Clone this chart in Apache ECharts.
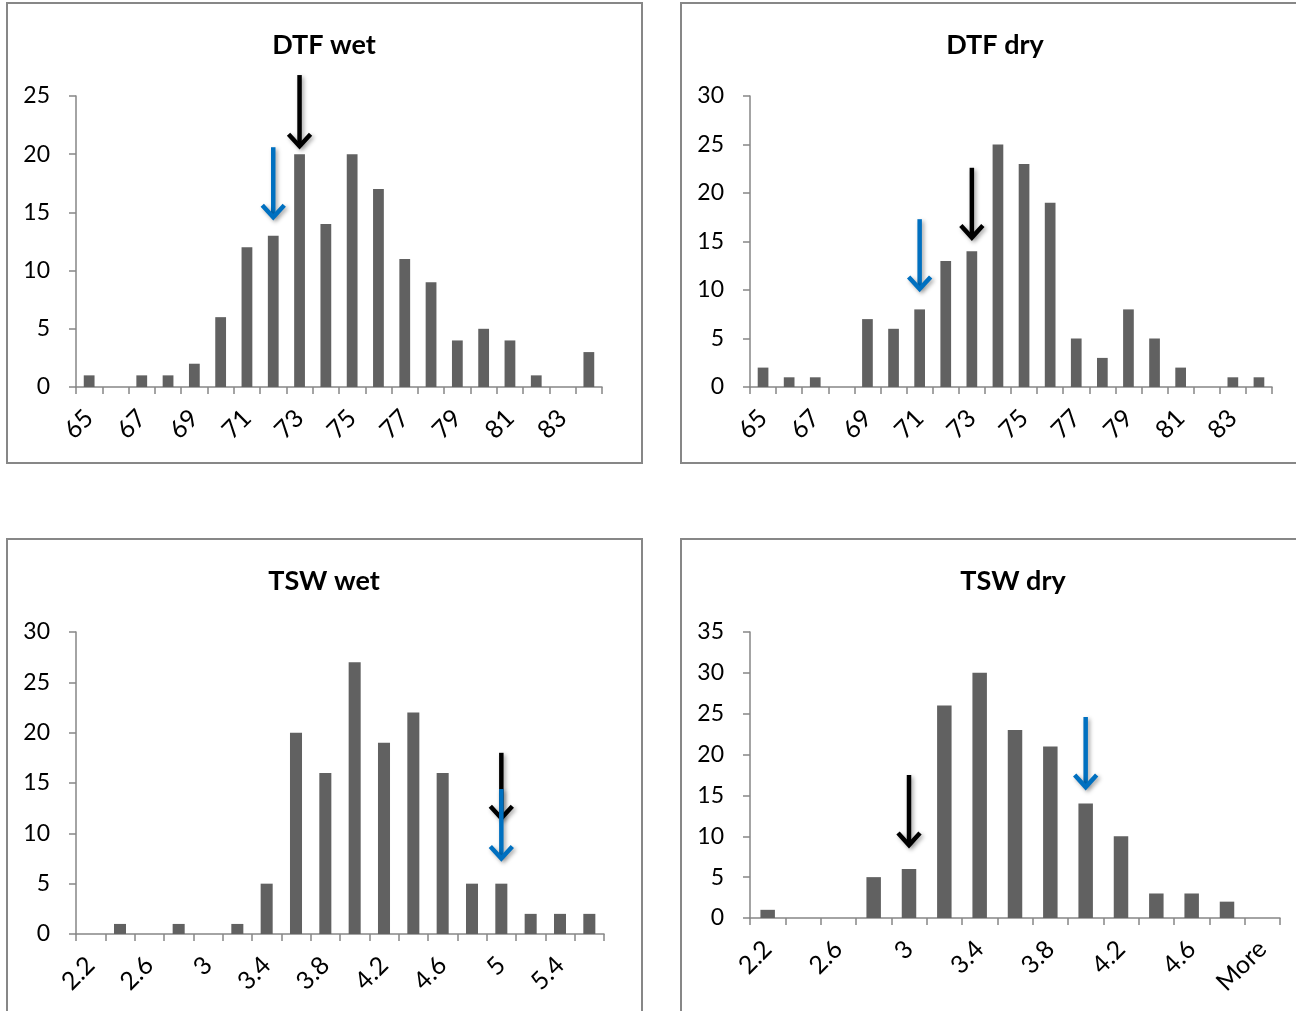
<!DOCTYPE html>
<html><head><meta charset="utf-8">
<script src="https://cdn.jsdelivr.net/npm/echarts@6/dist/echarts.min.js"></script>
<style>html,body{margin:0;padding:0;background:#fff}#c{width:1296px;height:1011px}</style>
</head><body><div id="c"></div>
<script>
// ---- data ----
const dtfCats = ['65','66','67','68','69','70','71','72','73','74','75','76','77','78','79','80','81','82','83','More'];
const dtfWet  = [1,0,1,1,2,6,12,13,20,14,20,17,11,9,4,5,4,1,0,3];
const dtfDry  = [2,1,1,0,7,6,8,13,14,25,23,19,5,3,8,5,2,0,1,1];
const tswWetCats = ['2.2','2.4','2.6','2.8','3','3.2','3.4','3.6','3.8','4','4.2','4.4','4.6','4.8','5','5.2','5.4','More'];
const tswWet  = [0,1,0,1,0,1,5,20,16,27,19,22,16,5,5,2,2,2];
const tswDryCats = ['2.2','2.4','2.6','2.8','3','3.2','3.4','3.6','3.8','4','4.2','4.4','4.6','4.8','More'];
const tswDry  = [1,0,0,5,6,26,30,23,21,14,10,3,3,2,0];
const titles = ['DTF wet','DTF dry','TSW wet','TSW dry'];
const yMax = [25,30,30,35];
const BLACK = '#000000', BLUE = '#0070C0';
// arrows: [category, start value, tip value, colour]
const dtfWetArrows = [['73',26.8,20.6,BLACK],['72',20.6,14.5,BLUE]];
const dtfDryArrows = [['73',22.6,15.3,BLACK],['71',17.3,10.0,BLUE]];
const tswWetArrows = [['5',18.0,11.4,BLACK],['5',14.4,7.4,BLUE]];
const tswDryArrows = [['3',17.5,8.8,BLACK],['4',24.6,15.9,BLUE]];

const panels = [
  {cats:dtfCats, vals:dtfWet, arrows:dtfWetArrows},
  {cats:dtfCats, vals:dtfDry, arrows:dtfDryArrows},
  {cats:tswWetCats, vals:tswWet, arrows:tswWetArrows},
  {cats:tswDryCats, vals:tswDry, arrows:tswDryArrows}
];

// ---- layout ----
const FONT = 'Lato';
const grids = [
  {left:76, top:96, width:526, height:291},
  {left:750, top:96, width:522, height:291},
  {left:76, top:632, width:528, height:302},
  {left:750, top:632, width:530, height:286}
];
const titlePos = [[319,27],[990,27],[319,563],[1008,563]];
const boxes = [[7,3,635,460],[681,3,660,460],[7,539,635,500],[681,539,660,500]];
const AX = '#868686';

const chart = echarts.init(document.getElementById('c'), null, {renderer:'canvas'});

function arrowItem(params, api) {
  const x = api.value(0), y0 = api.value(1), y1 = api.value(2);
  const color = panels[params.seriesIndex - 4].arrows[params.dataIndex][3];
  const p0 = api.coord([x, y0]), p1 = api.coord([x, y1]);
  const sh = {shadowBlur:4, shadowOffsetX:2, shadowOffsetY:2, shadowColor:'rgba(0,0,0,0.35)'};
  return {type:'group', children:[
    {type:'line', shape:{x1:p0[0], y1:p0[1], x2:p1[0], y2:p1[1]-3},
      style:Object.assign({stroke:color, lineWidth:4.5}, sh)},
    {type:'polyline', shape:{points:[[p1[0]-11,p1[1]-13],[p1[0],p1[1]-1],[p1[0]+11,p1[1]-13]]},
      style:Object.assign({stroke:color, lineWidth:4.5, fill:null, lineJoin:'miter'}, sh)}
  ]};
}

const option = {
  animation:false,
  backgroundColor:'#fff',
  textStyle:{fontFamily:FONT},
  title: titles.map((t,i)=>({text:t, left:titlePos[i][0], top:titlePos[i][1], textAlign:'center',
    textStyle:{fontFamily:FONT, fontWeight:'bold', fontSize:27, color:'#000'}})),
  grid: grids,
  xAxis: panels.map((p,i)=>({type:'category', gridIndex:i, data:p.cats,
    axisLine:{lineStyle:{color:AX, width:1.5}},
    axisTick:{show:true, interval:0, length:7, lineStyle:{color:AX, width:1.5}},
    axisLabel:{interval:1, rotate:45, margin:27, color:'#000', fontSize:25, fontFamily:FONT},
    splitLine:{show:false}})),
  yAxis: panels.map((p,i)=>({type:'value', gridIndex:i, min:0, max:yMax[i], interval:5,
    axisLine:{show:true, lineStyle:{color:AX, width:1.5}},
    axisTick:{show:true, length:7, lineStyle:{color:AX, width:1.5}},
    axisLabel:{margin:26, color:'#000', fontSize:23, fontFamily:FONT},
    splitLine:{show:false}})),
  series: panels.map((p,i)=>({type:'bar', xAxisIndex:i, yAxisIndex:i, data:p.vals,
    barWidth:'41%', itemStyle:{color:'#616161'}, silent:true}))
    .concat(panels.map((p,i)=>({type:'custom', xAxisIndex:i, yAxisIndex:i, clip:false, silent:true,
      data:p.arrows.map(a=>[a[0],a[1],a[2]]), renderItem:arrowItem, z:5}))),
  graphic: boxes.map(b=>({type:'rect', shape:{x:b[0], y:b[1], width:b[2], height:b[3]},
    style:{fill:null, stroke:'#878787', lineWidth:2}, silent:true}))
};
chart.setOption(option);
</script></body></html>
